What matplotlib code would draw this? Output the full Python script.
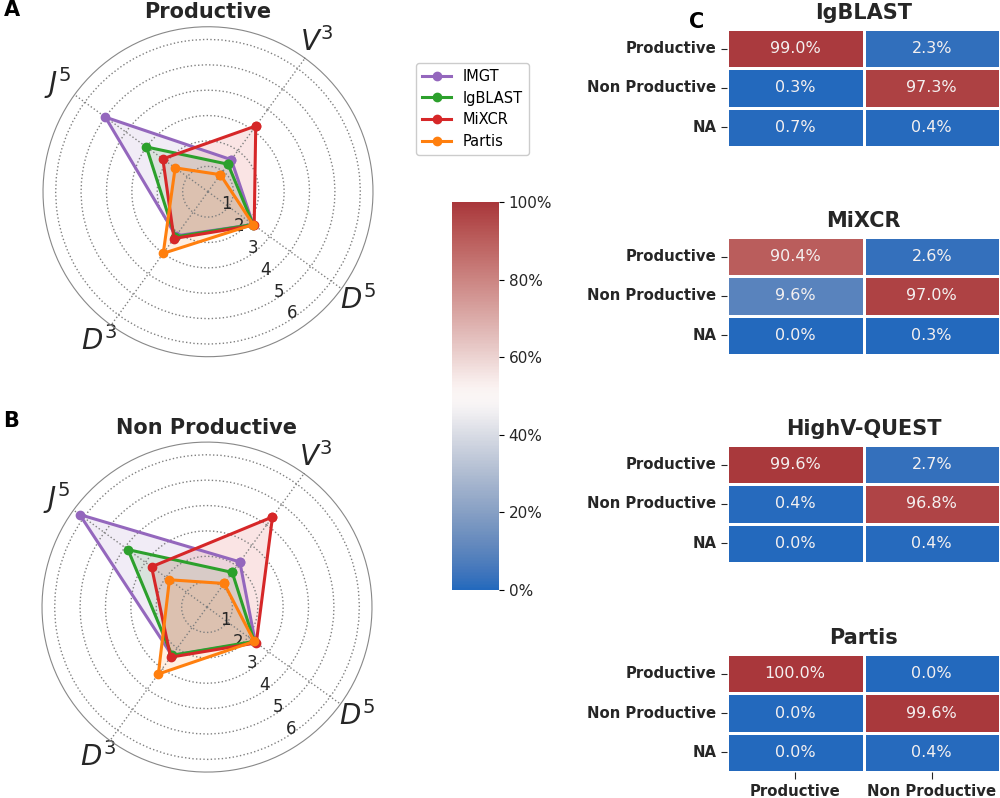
import matplotlib
matplotlib.use("Agg")
import numpy as np
import matplotlib.pyplot as plt
import seaborn as sns

# radar data (axes order: V3, J5, D3, D5)
regions = ["$V^3$", "$J^5$", "$D^3$", "$D^5$"]
tools = ["IMGT", "IgBLAST", "MiXCR", "Partis"]
colors = ["#9467bd", "#2ca02c", "#d62728", "#ff7f0e"]

prod_imgt = [1.56, 5.0, 2.15, 2.2]
prod_igblast = [1.34, 3.0, 2.2, 2.2]
prod_mixcr = [3.2, 2.2, 2.28, 2.25]
prod_partis = [0.83, 1.6, 3.0, 2.2]

nonprod_imgt = [2.2, 6.2, 2.35, 2.35]
nonprod_igblast = [1.69, 3.85, 2.35, 2.3]
nonprod_mixcr = [4.39, 2.7, 2.44, 2.4]
nonprod_partis = [1.15, 1.83, 3.26, 2.3]

# heatmap data (rows: Productive, Non Productive, NA; cols: Productive, Non Productive)
row_labels = ["Productive", "Non Productive", "NA"]
col_labels = ["Productive", "Non Productive"]
hm_titles = ["IgBLAST", "MiXCR", "HighV-QUEST", "Partis"]
igblast_hm = [[99.0, 2.3], [0.3, 97.3], [0.7, 0.4]]
mixcr_hm = [[90.4, 2.6], [9.6, 97.0], [0.0, 0.3]]
highv_hm = [[99.6, 2.7], [0.4, 96.8], [0.0, 0.4]]
partis_hm = [[100.0, 0.0], [0.0, 99.6], [0.0, 0.4]]

cbar_ticks = [0, 20, 40, 60, 80, 100]

cmap = sns.color_palette("vlag", as_cmap=True)
txt = "#262626"

fig = plt.figure(figsize=(10, 7.98), dpi=100)


def radar(rect, title, series):
    ax = fig.add_axes(rect, projection="polar")
    ax.set_theta_offset(np.deg2rad(54))
    ang = np.deg2rad([0, 90, 180, 270])
    for vals, name, c in zip(series, tools, colors):
        a = np.append(ang, ang[0])
        v = np.append(vals, vals[0])
        ax.plot(a, v, color=c, lw=2.2, marker="o", ms=6, label=name)
        ax.fill(a, v, color=c, alpha=0.12)
    ax.set_xticks(ang)
    ax.set_xticklabels(regions, fontsize=20, color=txt)
    ax.tick_params(axis="x", pad=4)
    ax.set_ylim(0, 6.5)
    ax.set_yticks([1, 2, 3, 4, 5, 6])
    ax.set_yticklabels(["1", "2", "3", "4", "5", "6"], fontsize=12, color=txt)
    ax.set_rlabel_position(247)
    ax.grid(color="gray", linestyle=":", linewidth=1)
    ax.spines["polar"].set_color("#888888")
    ax.set_title(title, fontsize=15, fontweight="bold", pad=6, color=txt)
    return ax


axA = radar([0.043, 0.553, 0.33, 0.4135], "Productive",
            [prod_imgt, prod_igblast, prod_mixcr, prod_partis])
axB = radar([0.042, 0.0325, 0.33, 0.4135], "Non Productive",
            [nonprod_imgt, nonprod_igblast, nonprod_mixcr, nonprod_partis])

h, l = axA.get_legend_handles_labels()
fig.legend(h, l, loc="upper left", bbox_to_anchor=(0.409, 0.93), fontsize=10.5,
           framealpha=1, edgecolor="#cccccc", labelspacing=0.45)

fig.text(0.004, 1.0, "A", fontsize=15, fontweight="bold", va="top")
fig.text(0.003, 0.485, "B", fontsize=15, fontweight="bold", va="top")
fig.text(0.689, 0.985, "C", fontsize=15, fontweight="bold", va="top")

# colorbar
cax = fig.add_axes([0.452, 1 - 590 / 798, 0.047, 388 / 798])
sm = plt.cm.ScalarMappable(cmap=cmap, norm=plt.Normalize(0, 100))
cb = fig.colorbar(sm, cax=cax)
cb.set_ticks(cbar_ticks)
cb.set_ticklabels([f"{t}%" for t in cbar_ticks])
cb.ax.tick_params(labelsize=11, labelcolor=txt)
cb.outline.set_visible(False)

bottoms = [1 - 147 / 798, 1 - 355 / 798, 1 - 563 / 798, 1 - 772 / 798]
for i, (data, title) in enumerate(zip([igblast_hm, mixcr_hm, highv_hm, partis_hm], hm_titles)):
    ax = fig.add_axes([0.727, bottoms[i], 0.273, 118 / 798])
    arr = np.array(data)
    annot = np.array([[f"{v:.1f}%" for v in r] for r in arr])
    sns.heatmap(arr, ax=ax, cmap=cmap, vmin=0, vmax=100, cbar=False,
                annot=annot, fmt="", linewidths=2, linecolor="white",
                annot_kws={"fontsize": 11.5, "color": "#f4f0f0"})
    ax.set_yticklabels(row_labels, rotation=0, fontsize=10.7, fontweight="bold", color=txt)
    ax.tick_params(axis="y", length=4, color=txt)
    if i == 3:
        ax.set_xticklabels(col_labels, fontsize=10.7, fontweight="bold", color=txt)
        ax.tick_params(axis="x", length=5, color=txt)
    else:
        ax.set_xticks([])
    ax.set_title(title, fontsize=15, fontweight="bold", pad=7.5, color=txt)

fig.savefig("out.png", dpi=100)
